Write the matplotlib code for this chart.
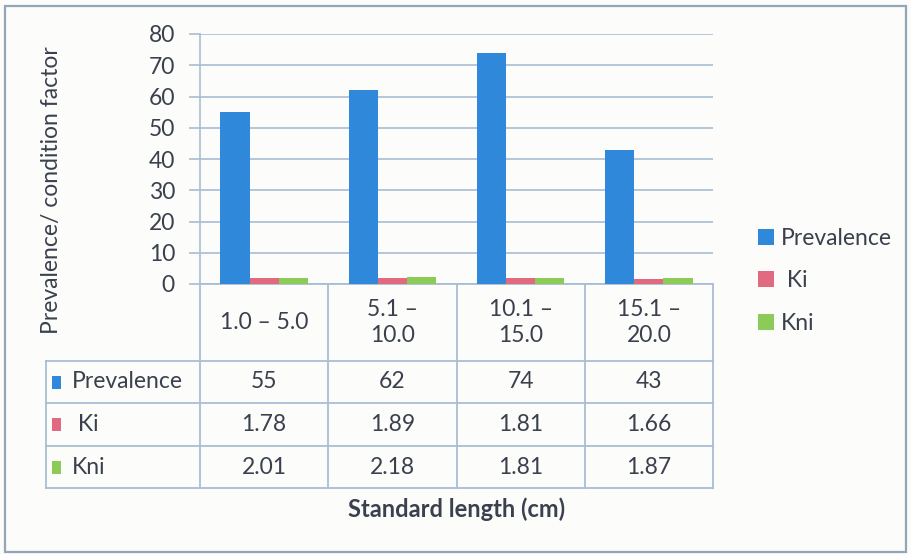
import matplotlib
matplotlib.use("Agg")
import matplotlib.pyplot as plt
import numpy as np
from matplotlib.transforms import blended_transform_factory
from matplotlib.patches import Rectangle, Patch
from matplotlib.lines import Line2D

plt.rcParams["font.family"] = ["Lato", "DejaVu Sans"]

# Data
categories = ["1.0 – 5.0", "5.1 –\n10.0", "10.1 –\n15.0", "15.1 –\n20.0"]
series_names = ["Prevalence", " Ki", "Kni"]
prevalence = [55, 62, 74, 43]
ki = [1.78, 1.89, 1.81, 1.66]
kni = [2.01, 2.18, 1.81, 1.87]
table_text = [["55", "62", "74", "43"],
              ["1.78", "1.89", "1.81", "1.66"],
              ["2.01", "2.18", "1.81", "1.87"]]
yticks = [0, 10, 20, 30, 40, 50, 60, 70, 80]

colors = ["#2f88da", "#e26a80", "#8ccb58"]
text_color = "#3a404d"
grid_color = "#a9bdd3"
FS = 16.5

W, H = 911, 554
fig = plt.figure(figsize=(W / 100, H / 100), dpi=100)
fig.patch.set_facecolor("#fcfcfa")

# outer chart border
fig.add_artist(Rectangle((5 / W, 2 / H), 901 / W, 546 / H, transform=fig.transFigure,
                         fill=False, edgecolor="#95a5b8", linewidth=1.6))

ax_left, ax_right, ax_top, ax_bottom = 200, 713, 34, 284
ax = fig.add_axes([ax_left / W, 1 - ax_bottom / H, (ax_right - ax_left) / W,
                   (ax_bottom - ax_top) / H])
ax.set_facecolor("none")

x = np.arange(len(categories))
bw = 0.227
for i, (vals, c) in enumerate(zip([prevalence, ki, kni], colors)):
    ax.bar(x + (i - 1) * bw, vals, width=bw, color=c, zorder=3)

ax.set_xlim(-0.5, len(categories) - 0.5)
ax.set_ylim(0, 80)
ax.set_yticks(yticks)
ax.set_yticklabels([str(t) for t in yticks], fontsize=FS, color=text_color)
ax.yaxis.grid(True, color=grid_color, linewidth=1.2, zorder=0)
ax.set_xticks([])
for s in ["top", "right", "bottom"]:
    ax.spines[s].set_visible(False)
ax.spines["left"].set_color(grid_color)
ax.spines["left"].set_linewidth(1.2)
ax.tick_params(axis="y", length=8, width=1.2, color=grid_color, pad=10)

# data table under the plot (x in category units, y in axes fraction)
tr = blended_transform_factory(ax.transData, ax.transAxes)
ph = ax_bottom - ax_top
def yf(py):
    return (ax_bottom - py) / ph

row_edges = [284, 361, 403, 446, 488]
hdr_left = -0.5 - (ax_left - 46) / ((ax_right - ax_left) / len(categories))
lkw = dict(color=grid_color, linewidth=1.3, transform=tr, clip_on=False)

ax.add_line(Line2D([-0.5, len(categories) - 0.5], [0, 0], **lkw))
for ry in row_edges[1:]:
    ax.add_line(Line2D([hdr_left, len(categories) - 0.5], [yf(ry), yf(ry)], **lkw))
for bx in np.arange(len(categories) + 1) - 0.5:
    ax.add_line(Line2D([bx, bx], [0, yf(row_edges[-1])], **lkw))
ax.add_line(Line2D([hdr_left, hdr_left], [yf(row_edges[1]), yf(row_edges[-1])], **lkw))

hdr_y = yf((row_edges[0] + row_edges[1]) / 2)
for i, lab in enumerate(categories):
    ax.text(i, hdr_y, lab, transform=tr, ha="center", va="center", fontsize=FS,
            color=text_color, linespacing=1.3)

for r, (name, c) in enumerate(zip(series_names, colors)):
    cy = yf((row_edges[r + 1] + row_edges[r + 2]) / 2)
    ax.add_patch(Rectangle((hdr_left + 0.05, cy - 0.026), 0.07, 0.052, transform=tr,
                           facecolor=c, edgecolor="none", clip_on=False))
    ax.text(hdr_left + 0.2, cy, name, transform=tr, ha="left", va="center",
            fontsize=FS, color=text_color)
    for i, t in enumerate(table_text[r]):
        ax.text(i, cy, t, transform=tr, ha="center", va="center", fontsize=FS,
                color=text_color)

ax.text(1.5, yf(509), "Standard length (cm)", transform=tr, ha="center", va="center",
        fontsize=17, fontweight="bold", color=text_color)

fig.text(52 / W, 1 - 190 / H, "Prevalence/ condition factor", rotation=90,
         ha="center", va="center", fontsize=FS, color=text_color)

handles = [Patch(facecolor=c, edgecolor="none") for c in colors]
fig.legend(handles, series_names, loc="center left",
           bbox_to_anchor=(737 / W, 1 - 281 / H), frameon=False, fontsize=FS,
           handlelength=0.7, handleheight=0.7, handletextpad=0.3,
           labelspacing=0.95, labelcolor=text_color)

fig.savefig("out.png", dpi=100, facecolor=fig.get_facecolor())
